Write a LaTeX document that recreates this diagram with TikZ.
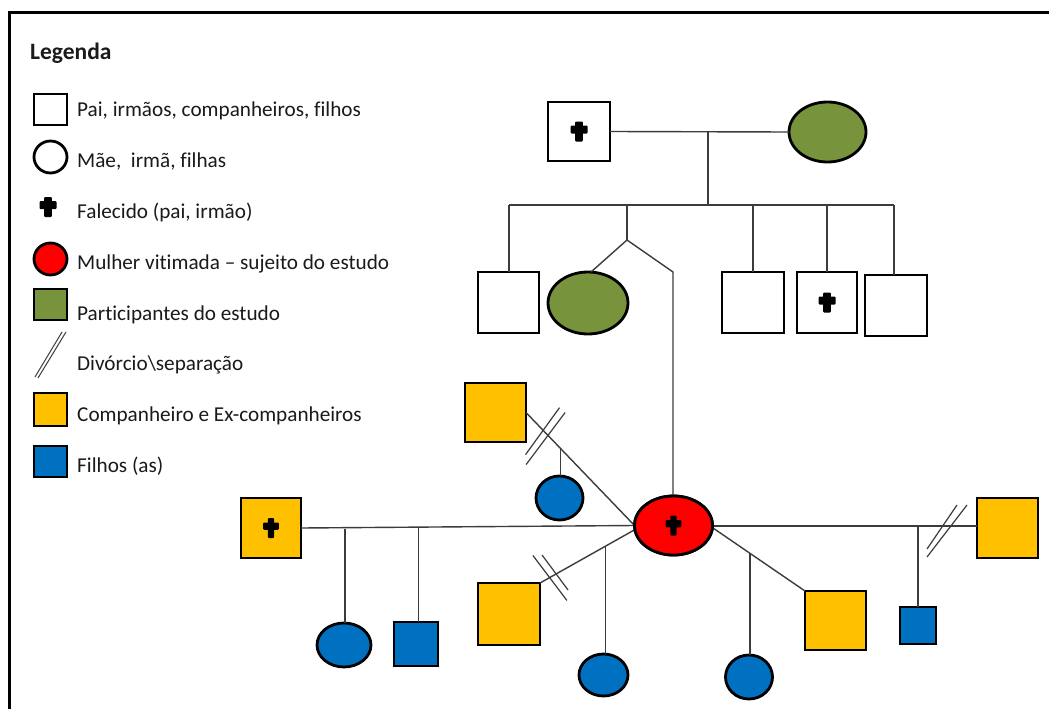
\documentclass[tikz,border=0pt]{standalone}
\usepackage{fontspec}
\setmainfont{Carlito}[Ligatures=NoCommon]
\usetikzlibrary{calc,shapes.geometric}

\definecolor{partYellow}{HTML}{FFC000}
\definecolor{studyGreen}{HTML}{77933C}
\definecolor{childBlue}{HTML}{0070C0}
\definecolor{victimRed}{HTML}{FF0000}
\definecolor{linkGray}{HTML}{3C3C3C}
\definecolor{legInk}{HTML}{1A1A1A}

\tikzset{
  person/.style={draw=black, line width=2.8pt, inner sep=0pt, outer sep=0pt},
  male/.style={person, rectangle},
  female/.style={person, ellipse},
  link/.style={draw=linkGray, line width=1.4pt},
  divmark/.style={draw=linkGray, line width=1.2pt},
  legtext/.style={anchor=west, inner sep=0pt, text=legInk, font=\fontsize{21.2}{25}\selectfont},
  falecido/.pic={
    \fill[black, rounded corners=1pt] (-3.8,-10) rectangle (3.8,10);
    \fill[black, rounded corners=1pt] (-8.5,-6) rectangle (8.5,2);
  },
  falecidoS/.pic={
    \fill[black, rounded corners=1pt] (-3.2,-10) rectangle (3.2,10);
    \fill[black, rounded corners=1pt] (-7.8,-5.5) rectangle (7.8,1.8);
  }
}

\begin{document}
\begin{tikzpicture}[x=1pt, y=-1pt]
\useasboundingbox (0,0) rectangle (1049,709);
\fill[white] (0,0) rectangle (1049,709);

% outer frame (runs past the right and bottom edges)
\draw[line width=2.6pt, black] (9.5,720) -- (9.5,12.5) -- (1060,12.5);

% ---------- legend ----------
\node[anchor=west, inner sep=0pt, text=legInk, font=\fontsize{23.5}{28}\selectfont\bfseries] (legTitle) at (30,53) {Legenda};

\node[male, minimum width=33pt, minimum height=31pt] (lSq) at (50.5,109.5) {};
\node[legtext] (tSq) at (77,110.5) {Pai, irmãos, companheiros, filhos};

\node[female, minimum width=33pt, minimum height=32pt] (lCirc) at (50.5,157) {};
\node[legtext] (tCirc) at (77,161) {Mãe,\ \ irmã, filhas};

\pic at (48,207) {falecido};
\node[legtext] (tCross) at (77,212.5) {Falecido (pai, irmão)};

\node[female, fill=victimRed, minimum width=33pt, minimum height=32pt] (lRed) at (50.5,259) {};
\node[legtext] (tRed) at (77,263.5) {Mulher vitimada – sujeito do estudo};

\node[male, fill=studyGreen, minimum width=33pt, minimum height=31pt] (lGreen) at (50.5,304.5) {};
\node[legtext] (tGreen) at (77,314.5) {Participantes do estudo};

\coordinate (lDivA) at (35,377);
\coordinate (lDivB) at (62,332);
\coordinate (lDivC) at (38,378);
\coordinate (lDivD) at (66,332);
\draw[divmark, line width=1pt] (lDivA) -- (lDivB);
\draw[divmark, line width=1pt] (lDivC) -- (lDivD);
\node[legtext] (tDiv) at (77,364.5) {Divórcio\textbackslash separação};

\node[male, fill=partYellow, minimum width=33pt, minimum height=33pt] (lYellow) at (50.5,409.5) {};
\node[legtext] (tYellow) at (77,415.5) {Companheiro e Ex-companheiros};

\node[male, fill=childBlue, minimum width=33pt, minimum height=31pt] (lBlue) at (50.5,461.5) {};
\node[legtext] (tBlue) at (77,466.5) {Filhos (as)};

% ---------- parents ----------
\node[male, minimum width=62pt, minimum height=59pt] (F) at (579,131.5) {};
\pic at (F.center) {falecido};
\node[female, fill=studyGreen, minimum width=77pt, minimum height=60pt] (M) at (827.5,132) {};

\coordinate (FM) at (708,131.7);
\coordinate (sibBar) at (708,205);
\draw[link] (F.east) -- (M.west);
\draw[link] (FM) -- (sibBar);

% ---------- siblings ----------
\node[male, minimum width=61pt, minimum height=61pt] (S1) at (508.5,302.5) {};
\node[female, fill=studyGreen, minimum width=80pt, minimum height=62pt] (G) at (588,303) {};
\node[male, minimum width=62pt, minimum height=61pt] (S3) at (753,302.5) {};
\node[male, minimum width=60pt, minimum height=61pt] (S4) at (827,302.5) {};
\pic at (S4.center) {falecido};
\node[male, minimum width=62pt, minimum height=61pt] (S5) at (896,305.5) {};

\node[female, fill=victimRed, minimum width=78pt, minimum height=59pt] (R) at (673.5,525.5) {};

\coordinate (barL) at (509,205);
\coordinate (barR) at (894,205);
\coordinate (twin) at (627,240);
\coordinate (twinBar) at (627,205);
\coordinate (rKnee) at (673,272);
\draw[link] (barL) -- (barR);
\draw[link] (barL) -- (S1.north -| barL);
\draw[link] (twinBar) -- (twin);
\draw[link] (twin) -- ($(G.north)+(3,0)$);
\draw[link] (twin) -- (rKnee) -- (R.north -| rKnee);
\draw[link] (S3.north |- barL) -- (S3.north);
\draw[link] (S4.north |- barL) -- (S4.north);
\draw[link] (barR) -- (S5.north -| barR);

% ---------- partners and children ----------
% first partner (separated), one daughter
\node[male, fill=partYellow, minimum width=61pt, minimum height=59pt] (Y1) at (495.5,412.5) {};
\node[female, fill=childBlue, minimum width=47pt, minimum height=44pt] (C1) at (559.5,498) {};
\draw[link] (Y1.east) -- (R.west);
\coordinate (c1Top) at ($(Y1.east)!0.32!(R.west)$);
\draw[link] (c1Top) -- (c1Top |- C1.north);
\coordinate (y1MarkA) at ($(Y1.east)!0.152!(R.west)$);
\coordinate (y1MarkB) at ($(Y1.east)!0.204!(R.west)$);
\draw[divmark] ($(y1MarkA)+(-17,25)$) -- ($(y1MarkA)+(17,-22)$);
\draw[divmark] ($(y1MarkB)+(-22,29)$) -- ($(y1MarkB)+(17,-23)$);

% deceased partner, daughter and son
\node[male, fill=partYellow, minimum width=60pt, minimum height=60pt] (Y2) at (271,528) {};
\pic at (Y2.center) {falecidoS};
\node[female, fill=childBlue, minimum width=54pt, minimum height=44pt] (D1) at (344,645) {};
\node[male, fill=childBlue, minimum width=44pt, minimum height=44pt] (D2) at (416,644) {};
\draw[link] (Y2.east) -- (R.west);
\coordinate (d1Top) at (345,528.5);
\coordinate (d2Top) at (418.5,528);
\draw[link] (d1Top) -- (d1Top |- D1.north);
\draw[link] (d2Top) -- (d2Top |- D2.north);

% partner below left (separated), one daughter
\node[male, fill=partYellow, minimum width=62pt, minimum height=62pt] (Y3) at (509,614) {};
\node[female, fill=childBlue, minimum width=49pt, minimum height=42pt] (E1) at (603.5,675) {};
\coordinate (rLow) at (636,529);
\draw[link] (Y3.north east) -- (rLow);
\coordinate (e1Top) at ($(Y3.north east)!0.684!(rLow)$);
\draw[link] (e1Top) -- (e1Top |- E1.north);
\coordinate (y3MarkA) at ($(Y3.north east)!0.103!(rLow)$);
\coordinate (y3MarkB) at ($(Y3.north east)!0.167!(rLow)$);
\draw[divmark] ($(y3MarkA)+(-17,-22)$) -- ($(y3MarkA)+(17,23)$);
\draw[divmark] ($(y3MarkB)+(-14,-19)$) -- ($(y3MarkB)+(12,16)$);

% partner on the right (separated), one son
\node[male, fill=partYellow, minimum width=61pt, minimum height=60pt] (Y4) at (1007.5,528) {};
\node[male, fill=childBlue, minimum width=36pt, minimum height=37pt] (F1) at (918,625.5) {};
\coordinate (rRight) at (712,526);
\draw[link] (rRight) -- (Y4.west |- rRight);
\coordinate (f1Top) at (918,526);
\draw[link] (f1Top) -- (F1.north);
\coordinate (y4MarkA) at (943,526);
\coordinate (y4MarkB) at (950,526);
\draw[divmark] ($(y4MarkA)+(-16,23)$) -- ($(y4MarkA)+(14,-21)$);
\draw[divmark] ($(y4MarkB)+(-23,31)$) -- ($(y4MarkB)+(17,-21)$);

% current partner, one daughter
\node[male, fill=partYellow, minimum width=61pt, minimum height=59pt] (Y5) at (835.5,620.5) {};
\node[female, fill=childBlue, minimum width=47pt, minimum height=44pt] (G1) at (749,677) {};
\coordinate (rRightLow) at (713,528);
\draw[link] (rRightLow) -- (Y5.north west);
\coordinate (g1Top) at ($(rRightLow)!0.402!(Y5.north west)$);
\draw[link] (g1Top) -- (g1Top |- G1.north);

% the central woman drawn again above the links that meet her
\node[female, fill=victimRed, minimum width=78pt, minimum height=59pt] (R2) at (R.center) {};
\pic at (R2.center) {falecidoS};
\end{tikzpicture}
\end{document}
